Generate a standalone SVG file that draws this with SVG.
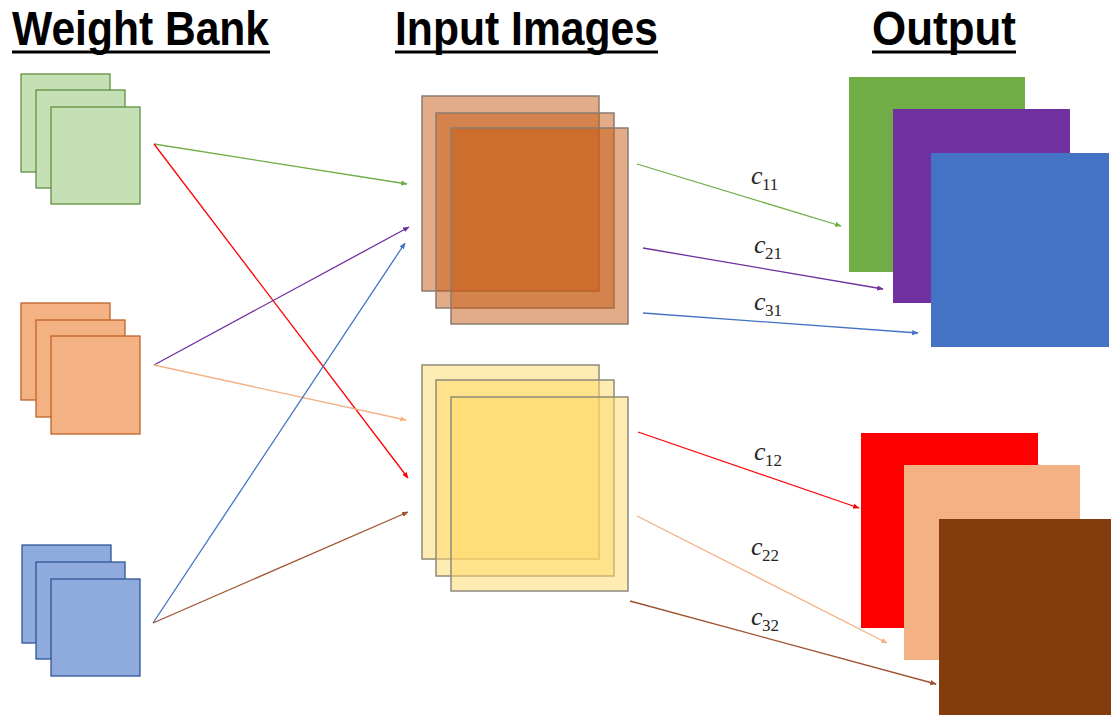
<svg xmlns="http://www.w3.org/2000/svg" width="1111" height="715" viewBox="0 0 1111 715">
  <style>
    .title { font-family: "Liberation Sans", Arial, sans-serif; font-weight: bold; font-size: 49px; fill: #000; }
    .uline { stroke: #000; stroke-width: 3; }
    .lbl { font-family: "Liberation Serif", "Times New Roman", serif; font-style: italic; font-size: 26px; fill: #262626; }
    .sub { font-style: normal; font-size: 17px; }
    .wg { fill: #c5e0b4; stroke: #5f9140; stroke-width: 1.3; }
    .wo { fill: #f4b183; stroke: #bf6328; stroke-width: 1.3; }
    .wb { fill: #8faadc; stroke: #2f5597; stroke-width: 1.3; }
    .io { fill: #c55a11; fill-opacity: 0.5; stroke: #8a7b6f; stroke-width: 1.5; }
    .iy { fill: #ffd966; fill-opacity: 0.5; stroke: #8f8a7a; stroke-width: 1.5; }
    .conn line { fill: none; stroke-width: 1.3; }
  </style>
  <defs>
    <marker id="ah-green" viewBox="0 0 10 10" refX="9" refY="5" markerWidth="5" markerHeight="5" orient="auto" markerUnits="strokeWidth"><path d="M0,1 L10,5 L0,9 z" fill="#70ad47"/></marker>
    <marker id="ah-red" viewBox="0 0 10 10" refX="9" refY="5" markerWidth="5" markerHeight="5" orient="auto" markerUnits="strokeWidth"><path d="M0,1 L10,5 L0,9 z" fill="#ff0000"/></marker>
    <marker id="ah-purple" viewBox="0 0 10 10" refX="9" refY="5" markerWidth="5" markerHeight="5" orient="auto" markerUnits="strokeWidth"><path d="M0,1 L10,5 L0,9 z" fill="#7030a0"/></marker>
    <marker id="ah-blue" viewBox="0 0 10 10" refX="9" refY="5" markerWidth="5" markerHeight="5" orient="auto" markerUnits="strokeWidth"><path d="M0,1 L10,5 L0,9 z" fill="#4472c4"/></marker>
    <marker id="ah-peach" viewBox="0 0 10 10" refX="9" refY="5" markerWidth="5" markerHeight="5" orient="auto" markerUnits="strokeWidth"><path d="M0,1 L10,5 L0,9 z" fill="#f4b183"/></marker>
    <marker id="ah-brown" viewBox="0 0 10 10" refX="9" refY="5" markerWidth="5" markerHeight="5" orient="auto" markerUnits="strokeWidth"><path d="M0,1 L10,5 L0,9 z" fill="#a0522d"/></marker>
  </defs>

  <rect width="1111" height="715" fill="#fff"/>

  <!-- column headings -->
  <g id="headings">
    <text class="title" x="12" y="45" textLength="257" lengthAdjust="spacingAndGlyphs">Weight Bank</text>
    <line class="uline" x1="12" y1="52" x2="270" y2="52"/>
    <text class="title" x="395" y="45" textLength="263" lengthAdjust="spacingAndGlyphs">Input Images</text>
    <line class="uline" x1="395" y1="52" x2="658" y2="52"/>
    <text class="title" x="872" y="45" textLength="144" lengthAdjust="spacingAndGlyphs">Output</text>
    <line class="uline" x1="872" y1="52" x2="1016" y2="52"/>
  </g>

  <!-- weight bank stacks -->
  <g id="weight-green">
    <rect class="wg" x="21" y="74" width="89" height="98"/>
    <rect class="wg" x="36" y="90" width="89" height="98"/>
    <rect class="wg" x="51" y="107" width="89" height="97"/>
  </g>
  <g id="weight-orange">
    <rect class="wo" x="21" y="303" width="89" height="97"/>
    <rect class="wo" x="36" y="320" width="89" height="97"/>
    <rect class="wo" x="51" y="336" width="89" height="98"/>
  </g>
  <g id="weight-blue">
    <rect class="wb" x="22" y="545" width="89" height="98"/>
    <rect class="wb" x="36" y="562" width="89" height="97"/>
    <rect class="wb" x="51" y="579" width="89" height="97"/>
  </g>

  <!-- input image stacks (translucent layers) -->
  <g id="input-orange">
    <rect class="io" x="422" y="96" width="177" height="195"/>
    <rect class="io" x="436" y="113" width="178" height="195"/>
    <rect class="io" x="451" y="128" width="177" height="196"/>
  </g>
  <g id="input-yellow">
    <rect class="iy" x="422" y="365" width="177" height="194"/>
    <rect class="iy" x="436" y="380" width="178" height="196"/>
    <rect class="iy" x="451" y="397" width="177" height="194"/>
  </g>

  <!-- output feature maps -->
  <g id="output-top">
    <rect x="849" y="77" width="176" height="195" fill="#70ad47"/>
    <rect x="893" y="109" width="177" height="194" fill="#7030a0"/>
    <rect x="931" y="153" width="178" height="194" fill="#4472c4"/>
  </g>
  <g id="output-bottom">
    <rect x="861" y="433" width="177" height="195" fill="#ff0000"/>
    <rect x="904" y="465" width="176" height="195" fill="#f4b183"/>
    <rect x="939" y="519" width="172" height="196" fill="#843c0c"/>
  </g>

  <!-- connectors -->
  <g id="connectors" class="conn">
    <line x1="154" y1="144" x2="407" y2="184" stroke="#70ad47" marker-end="url(#ah-green)"/>
    <line x1="154" y1="144" x2="408" y2="478" stroke="#ff0000" stroke-width="1.6" marker-end="url(#ah-red)"/>
    <line x1="154" y1="365" x2="409" y2="227" stroke="#7030a0" marker-end="url(#ah-purple)"/>
    <line x1="154" y1="365" x2="406" y2="420" stroke="#f4b183" marker-end="url(#ah-peach)"/>
    <line x1="153" y1="623" x2="405" y2="243" stroke="#4472c4" marker-end="url(#ah-blue)"/>
    <line x1="153" y1="623" x2="408" y2="512" stroke="#a0522d" marker-end="url(#ah-brown)"/>

    <line x1="637" y1="164" x2="841" y2="226" stroke="#70ad47" marker-end="url(#ah-green)"/>
    <line x1="643" y1="248" x2="883" y2="289" stroke="#7030a0" marker-end="url(#ah-purple)"/>
    <line x1="643" y1="313" x2="918" y2="333" stroke="#4472c4" marker-end="url(#ah-blue)"/>
    <line x1="638" y1="432" x2="859" y2="508" stroke="#ff0000" stroke-width="1.6" marker-end="url(#ah-red)"/>
    <line x1="637" y1="516" x2="887" y2="643" stroke="#f4b183" marker-end="url(#ah-peach)"/>
    <line x1="630" y1="601" x2="936" y2="684" stroke="#a0522d" marker-end="url(#ah-brown)"/>
  </g>

  <!-- coefficient labels: italic c with upright two-digit index -->
  <g id="coefficients">
    <text class="lbl" x="751" y="184">c<tspan class="sub" x="762" dy="6">11</tspan></text>
    <text class="lbl" x="754" y="253">c<tspan class="sub" x="765" dy="6">21</tspan></text>
    <text class="lbl" x="754" y="310">c<tspan class="sub" x="765" dy="6">31</tspan></text>
    <text class="lbl" x="754" y="460">c<tspan class="sub" x="765" dy="6">12</tspan></text>
    <text class="lbl" x="751" y="555">c<tspan class="sub" x="762" dy="6">22</tspan></text>
    <text class="lbl" x="751" y="625">c<tspan class="sub" x="762" dy="6">32</tspan></text>
  </g>
</svg>
